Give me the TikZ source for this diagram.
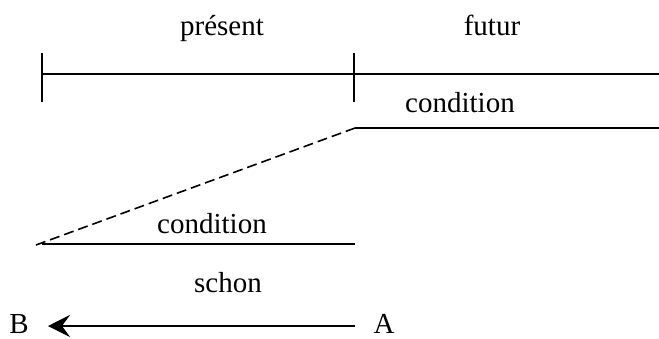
\documentclass[tikz,border=0pt]{standalone}
\usepackage{fontspec}
\setmainfont{Liberation Serif}
\usetikzlibrary{arrows.meta}
\begin{document}
\begin{tikzpicture}[x=0.5pt,y=-0.5pt,
  lbl/.style={font=\fontsize{14.5}{16}\selectfont, inner sep=0pt, anchor=base},
  ln/.style={line width=1pt},
  dsh/.style={line width=0.8pt, dash pattern=on 5pt off 2.5pt}]
\useasboundingbox (0,0) rectangle (659,338);
% labels
\node[lbl] (present) at (222,35) {présent};
\node[lbl] (futur) at (492,35) {futur};
\node[lbl] (cond1) at (460,112) {condition};
\node[lbl] (cond2) at (212,233) {condition};
\node[lbl] (schon) at (228,292) {schon};
\node[lbl] (B) at (19,333) {B};
\node[lbl] (A) at (384,333) {A};
% timeline
\coordinate (t0) at (42,74);
\coordinate (t1) at (354,74);
\coordinate (t2) at (659,74);
\coordinate (t0u) at (42,53);
\coordinate (t0d) at (42,102);
\coordinate (t1u) at (354,53);
\coordinate (t1d) at (354,102);
\draw[ln] (t0) -- (t2);
\draw[ln] (t0u) -- (t0d);
\draw[ln] (t1u) -- (t1d);
% upper condition line
\coordinate (c1a) at (355,128);
\coordinate (c1b) at (659,128);
\draw[ln] (c1a) -- (c1b);
% lower condition line
\coordinate (c2a) at (42,244);
\coordinate (c2b) at (355,244);
\draw[ln] (c2a) -- (c2b);
% dashed connector
\coordinate (d0) at (36,245);
\draw[dsh] (d0) -- (c1a);
% arrow
\coordinate (aR) at (355,326);
\coordinate (aL) at (48,326);
\draw[ln, -{Stealth[length=11pt,width=11pt,inset=4pt]}] (aR) -- (aL);
\end{tikzpicture}
\end{document}
